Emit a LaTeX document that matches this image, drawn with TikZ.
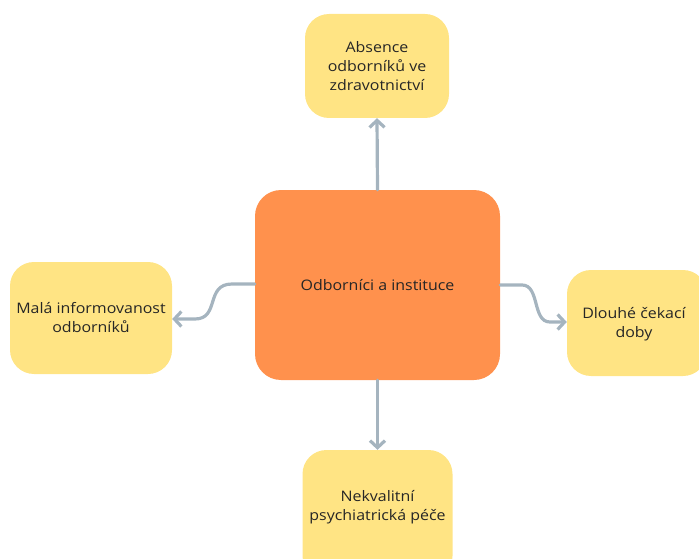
\documentclass[tikz,border=0pt]{standalone}
\usepackage{fontspec}
\setmainfont{Open Sans}[FakeStretch=1.1]
\usetikzlibrary{arrows.meta}
\definecolor{yel}{HTML}{FFE484}
\definecolor{org}{HTML}{FF914D}
\definecolor{arr}{HTML}{A5B4BF}
\tikzset{
  txt/.style={font=\fontsize{14.5}{19}\selectfont, align=center, text=black!85},
  leaf/.style={fill=yel, draw=none, rounded corners=24pt, txt, inner sep=0pt},
  hub/.style={fill=org, draw=none, rounded corners=26pt, txt, inner sep=0pt},
  link/.style={draw=arr, line width=3.2pt, line cap=round, -{Straight Barb[length=7pt,width=15pt,line width=3.2pt]}}
}
\begin{document}
\begin{tikzpicture}[x=1pt,y=-1pt]
\useasboundingbox (0,0) rectangle (699,559);
\node[hub, minimum width=245pt, minimum height=190pt] (c) at (377.5,285) {Odborníci a instituce};
\node[leaf, minimum width=144pt, minimum height=104pt] (t) at (377,66) {Absence\\odborníků ve\\zdravotnictví};
\node[leaf, minimum width=162pt, minimum height=112pt] (l) at (91,318) {Malá informovanost\\odborníků};
\node[leaf, minimum width=140pt, minimum height=106pt] (r) at (637,323) {};
\node[txt] (rt) at (634,324) {Dlouhé čekací\\doby};
\node[leaf, minimum width=150pt, minimum height=130pt] (b) at (377.5,515) {};
\node[txt] (bt) at (377.5,507) {Nekvalitní\\psychiatrická péče};
\coordinate (cl) at (c.west |- 0,284);
\coordinate (cr) at (c.east |- 0,285);
\draw[link] (c.north) -- (t.south);
\draw[link] (c.south) -- (b.north);
\draw[link] (cl) -- (232,284) .. controls (205,284) and (220,319) .. (195,319) -- (l.east |- 0,319);
\draw[link] (cr) -- (522,285) .. controls (540,285) and (532,322) .. (550,322) -- (r.west |- 0,322);
\end{tikzpicture}
\end{document}
